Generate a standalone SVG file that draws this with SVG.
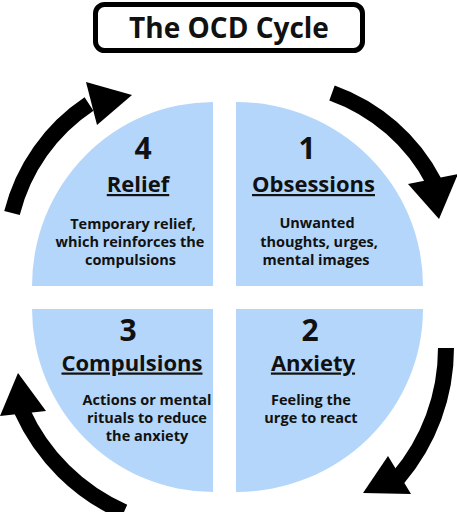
<svg xmlns="http://www.w3.org/2000/svg" width="457" height="512" viewBox="0 0 457 512">
<style>
.q{fill:#b4d6fa}
.t{font-family:"Open Sans","Liberation Sans",sans-serif;font-weight:bold;fill:#111;text-anchor:middle}
.num{font-size:30px}
.hd{font-size:22px;text-decoration:underline}
.ds{font-size:14.5px}
.sh{fill:none;stroke:#000;stroke-width:16}
.hh{fill:#000}
</style>
<rect x="95.5" y="4.5" width="267" height="46" rx="9" fill="#fff" stroke="#000" stroke-width="5"/>
<text class="t" x="229" y="37.5" font-size="28">The OCD Cycle</text>
<g id="connectors">
<path class="sh" d="M332,93 A185,185 0 0 1 434,182"/>
<polygon class="hh" points="408,184 458,174 439,219"/>
<path class="sh" d="M446,348 A200,200 0 0 1 398,478"/>
<polygon class="hh" points="388,456 411,494 363,493"/>
<path class="sh" d="M124,512 A200,200 0 0 1 22,411"/>
<polygon class="hh" points="0,416 46,411 18,373"/>
<path class="sh" d="M12,213 A185,185 0 0 1 89,104"/>
<polygon class="hh" points="86,82 97,125 132,95"/>
</g>
<g id="obsessions">
<path class="q" d="M236,286 L236,102 A187,184 0 0 1 423,286 Z"/>
<text class="t num" x="307" y="159">1</text>
<text class="t hd" x="313.5" y="192">Obsessions</text>
<text class="t ds" x="317" y="227.5">Unwanted</text>
<text class="t ds" x="319" y="246.5">thoughts, urges,</text>
<text class="t ds" x="316" y="265">mental images</text>
</g>
<g id="anxiety">
<path class="q" d="M236,309 L236,492 A187,183 0 0 0 423,309 Z"/>
<text class="t num" x="310" y="340.5">2</text>
<text class="t hd" x="313" y="370.5">Anxiety</text>
<text class="t ds" x="311" y="405">Feeling the</text>
<text class="t ds" x="311" y="423">urge to react</text>
</g>
<g id="compulsions">
<path class="q" d="M213,309 L213,492 A181,183 0 0 1 32,309 Z"/>
<text class="t num" x="128" y="340.5">3</text>
<text class="t hd" x="132" y="370.5">Compulsions</text>
<text class="t ds" x="147" y="405">Actions or mental</text>
<text class="t ds" x="147" y="423">rituals to reduce</text>
<text class="t ds" x="147" y="441">the anxiety</text>
</g>
<g id="relief">
<path class="q" d="M213,286 L213,102 A181,184 0 0 0 32,286 Z"/>
<text class="t num" x="143" y="159">4</text>
<text class="t hd" x="138" y="192">Relief</text>
<text class="t ds" x="133" y="228.5">Temporary relief,</text>
<text class="t ds" x="130" y="247">which reinforces the</text>
<text class="t ds" x="130.5" y="265">compulsions</text>
</g>
</svg>
